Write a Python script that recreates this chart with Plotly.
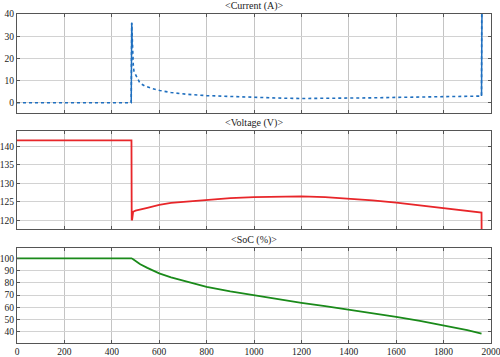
import plotly.graph_objects as go
from plotly.subplots import make_subplots

# ---- data ----
t_current = [0, 200, 400, 482, 484, 486, 488, 491, 494, 500, 506, 519, 540, 570, 603,
             650, 716, 800, 913, 1000, 1100, 1200, 1300, 1400, 1500, 1600, 1700,
             1800, 1900, 1960, 1961, 1962]
current = [0, 0, 0, 0, 36, 26, 20, 16, 14, 12.5, 11.5, 8.8, 7.5, 6.4, 5.5,
           4.6, 3.8, 3.2, 2.7, 2.4, 2.1, 1.9, 1.9, 2.0, 2.2, 2.4, 2.6,
           2.8, 3.0, 3.0, 45, 45]

t_voltage = [0, 200, 400, 483, 484, 486, 490, 500, 550, 600, 650, 700, 800, 900,
             1000, 1100, 1200, 1300, 1400, 1500, 1600, 1700, 1800, 1900, 1960,
             1961, 1962]
voltage = [141.7, 141.7, 141.7, 141.7, 120.0, 120.3, 122.3, 122.6, 123.4, 124.2, 124.7,
           125.0, 125.5, 126.0, 126.3, 126.5, 126.5, 126.3, 125.9, 125.4, 124.8, 124.1,
           123.3, 122.6, 122.1, 110, 110]

t_soc = [0, 200, 400, 483, 490, 500, 520, 550, 575, 600, 650, 700, 750, 800, 900,
         1000, 1100, 1200, 1300, 1400, 1500, 1600, 1700, 1800, 1900, 1960]
soc = [100, 100, 100, 100, 99.3, 98.0, 95.2, 92.2, 89.8, 87.7, 84.5, 81.8, 79.2,
       76.8, 73.0, 69.8, 66.7, 63.7, 61.0, 58.2, 55.3, 52.3, 49.0, 45.5, 41.5, 38.6]

panel_titles = ["<Current (A)>", "<Voltage (V)>", "<SoC (%)>"]
x_ticks = [0, 200, 400, 600, 800, 1000, 1200, 1400, 1600, 1800, 2000]

# ---- figure ----
fig = make_subplots(rows=3, cols=1, shared_xaxes=False, vertical_spacing=0.05)

blue, red, green = "#1f6fbf", "#e8262a", "#1a8a1a"

# current: dotted body, solid vertical jumps
fig.add_trace(go.Scatter(x=t_current, y=current, mode="lines",
                         line=dict(color=blue, width=1.6, dash="dot")), row=1, col=1)
fig.add_trace(go.Scatter(x=t_current[3:6], y=current[3:6], mode="lines",
                         line=dict(color=blue, width=1.5)), row=1, col=1)
fig.add_trace(go.Scatter(x=t_current[-3:], y=current[-3:], mode="lines",
                         line=dict(color=blue, width=1.5)), row=1, col=1)
fig.add_trace(go.Scatter(x=t_voltage, y=voltage, mode="lines",
                         line=dict(color=red, width=1.8)), row=2, col=1)
fig.add_trace(go.Scatter(x=t_soc, y=soc, mode="lines",
                         line=dict(color=green, width=1.8)), row=3, col=1)

font = dict(family="Liberation Serif", size=9.5, color="#222222")
domains = [[0.70, 1.0], [0.345, 0.643], [0.0, 0.288]]
yranges = [[-4.5, 40], [117.5, 144.1], [31, 108.2]]
ydt = [10, 5, 10]
y0 = [0, 120, 40]

for i in range(3):
    xa = "xaxis" if i == 0 else f"xaxis{i+1}"
    ya = "yaxis" if i == 0 else f"yaxis{i+1}"
    fig.layout[xa].update(range=[0, 2000], tickvals=x_ticks, automargin=False,
                          ticklabeloverflow="allow",
                          showticklabels=(i == 2), showgrid=True,
                          gridcolor="#c4c4c4", gridwidth=1, zeroline=False,
                          showline=True, linecolor="#555555", linewidth=1,
                          mirror="ticks", ticks="inside", ticklen=3,
                          tickcolor="#555555", tickfont=font)
    fig.layout[ya].update(range=yranges[i], domain=domains[i], tick0=y0[i], dtick=ydt[i],
                          automargin=False, ticklabeloverflow="allow",
                          showgrid=True, gridcolor="#d2d2d2", gridwidth=1,
                          zeroline=False, showline=True, linecolor="#555555",
                          linewidth=1, mirror="ticks", ticks="inside", ticklen=3,
                          tickcolor="#555555", tickfont=font)
    fig.add_annotation(text=panel_titles[i], xref="paper", yref="paper",
                       x=0.5, y=domains[i][1], yshift=0, showarrow=False,
                       xanchor="center", yanchor="bottom",
                       font=dict(family="Liberation Serif", size=10, color="#222222"))

fig.update_layout(width=500, height=357, showlegend=False,
                  margin=dict(l=17, r=9, t=14, b=14),
                  paper_bgcolor="white", plot_bgcolor="white")

fig.write_html("out.html", config={"displayModeBar": False},
               post_script="document.body.style.margin='0';document.body.style.padding='0';")
